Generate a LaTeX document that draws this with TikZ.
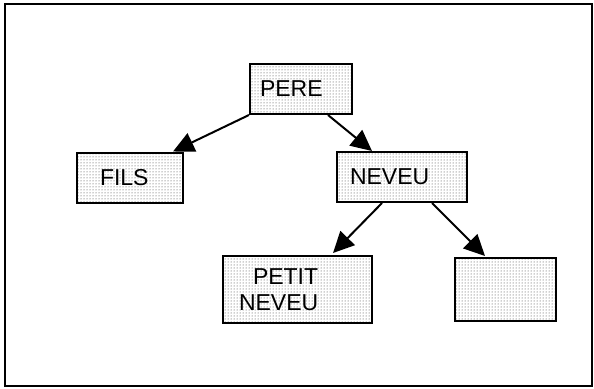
\documentclass[tikz,border=0pt]{standalone}
\usepackage{fontspec}
\setmainfont{Liberation Sans}
\usetikzlibrary{arrows.meta,patterns}

\begin{document}
\begin{tikzpicture}[
    x=1pt, y=-1pt,
    >={Triangle[length=21pt,width=20pt]},
    font=\fontsize{23}{26}\selectfont,
    cell/.style={
        draw=black,
        line width=2pt,
        pattern=dots,
        pattern color=black!80,
        minimum height=50pt,
        align=left,
        inner ysep=0pt
    },
    arr/.style={->, line width=2pt}
]
\useasboundingbox (0,0) rectangle (594,388);

% outer frame
\draw[line width=2pt] (5,4) rectangle (592,386);

% first row
\node[cell, text width=82pt, inner xsep=10pt] (pere) at (301,89) {PERE};

% second row
\node[cell, text width=60pt, inner xsep=23pt] (fils) at (130,177.5) {FILS};
\node[cell, text width=104pt, inner xsep=13pt] (neveu) at (402,177) {NEVEU};

% third row
\node[cell, text width=117pt, inner xsep=16pt, minimum height=67pt] (petit) at (297.5,289.5)
{\hspace{14pt}PETIT\\NEVEU};
\node[cell, text width=81pt, inner xsep=10pt, minimum height=63pt] (vide) at (505.5,289.5) {};

\draw[arr] (pere.south west) -- ([xshift=-11pt]fils.north east);
\draw[arr] ([xshift=27pt]pere.south) -- ([xshift=-30pt]neveu.north);
\draw[arr] ([xshift=-20pt]neveu.south) -- ([xshift=35.5pt, yshift=2pt]petit.north);
\draw[arr] ([xshift=30pt]neveu.south) -- ([xshift=-20.5pt, yshift=1pt]vide.north);

\end{tikzpicture}
\end{document}
